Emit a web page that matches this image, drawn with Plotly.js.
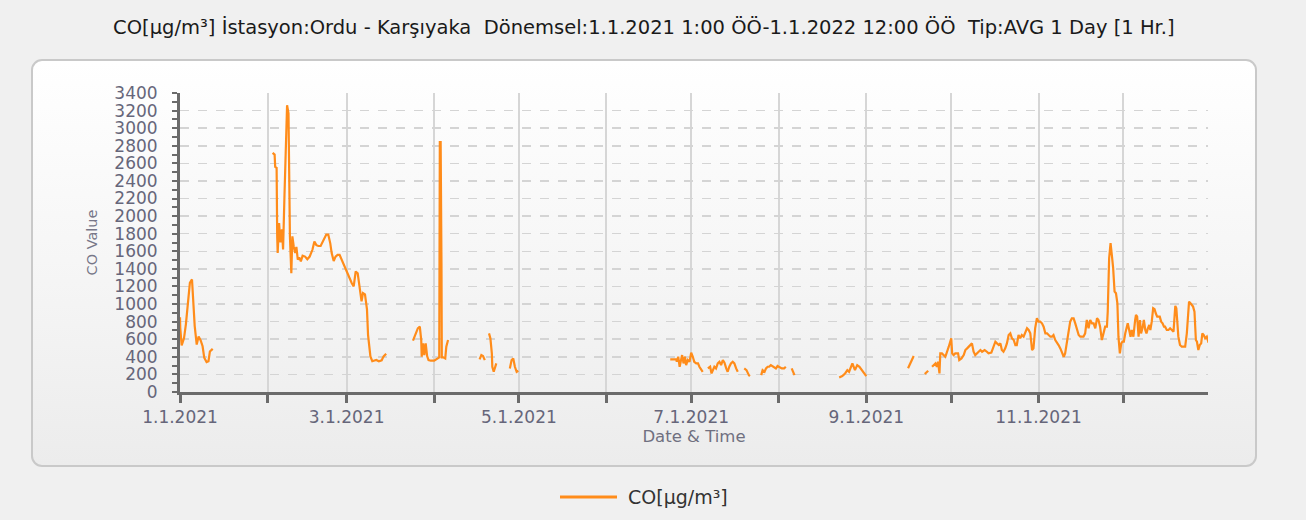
<!DOCTYPE html>
<html>
<head>
<meta charset="utf-8">
<script src="https://cdn.plot.ly/plotly-3.0.1.min.js"></script>
<style>
  html, body { margin: 0; padding: 0; background: #f0f0f0; }
  #wrap { position: relative; width: 1306px; height: 520px; overflow: hidden; }
  #panel { position: absolute; left: 31px; top: 59px; width: 1222px; height: 404px;
           border: 2px solid #c9c9c9; border-radius: 11px;
           background: linear-gradient(to bottom, #ffffff 0%, #f4f4f4 60%, #ececec 100%); }
  #chart { position: absolute; left: 0; top: 0; width: 1306px; height: 520px; }
</style>
</head>
<body>
<div id="wrap">
  <div id="panel"></div>
  <div id="chart"></div>
</div>
<script>
// Each segment: [days since 1.1.2021 00:00, CO value µg/m³]; gaps between segments are missing data.
const janSeg = [[0,850],[0.1,730],[0.6,530],[1.4,610],[2.1,770],[2.8,1030],[3.5,1240],[4.25,1280],[4.7,1020],[5.2,750],[5.9,540],[6.6,630],[7.3,590],[8.0,520],[8.6,390],[9.4,340],[10.1,350],[10.6,460],[11.6,490]];
const febMarSeg = [[32.8,2720],[33.5,2700],[33.7,2560],[34.2,2550],[34.4,1770],[34.6,1580],[35.1,1920],[35.6,1700],[36.1,1850],[36.5,1620],[37.0,2240],[37.5,2830],[37.9,3260],[38.4,3170],[38.6,2830],[38.9,1770],[39.4,1350],[39.8,1770],[40.3,1650],[40.8,1580],[41.2,1650],[41.7,1505],[42.2,1530],[42.8,1485],[43.4,1550],[44.3,1540],[45.1,1510],[45.9,1540],[46.9,1620],[47.6,1710],[48.3,1670],[49.0,1660],[49.8,1660],[50.4,1700],[51.1,1750],[51.8,1790],[52.5,1790],[53.2,1690],[53.7,1580],[54.4,1490],[55.1,1540],[55.8,1560],[56.5,1560],[57.2,1505],[57.9,1450],[58.6,1410],[59.4,1350],[60.1,1300],[60.8,1240],[61.5,1200],[62.2,1370],[62.9,1350],[63.6,1160],[64.3,1030],[64.8,1125],[65.5,1110],[66.2,940],[66.6,650],[67.4,405],[68.1,350],[69.5,365],[70.4,350],[71.4,360],[72.1,405],[73.0,435]];
const marAprSeg = [[82.5,584],[83.45,667],[84.2,724],[84.9,743],[85.4,591],[85.6,401],[86.1,553],[86.5,420],[87.0,553],[87.5,409],[88.0,363],[88.8,356],[90.0,356],[91.8,394],[92.0,2841],[92.3,2841],[92.35,1465],[92.6,1465],[92.7,394],[93.2,394],[93.9,382],[94.3,515],[94.9,591]];
const aprSegA = [[106.1,371],[106.7,420],[107.3,409],[107.9,363]];
const aprSegB = [[109.4,667],[109.9,610],[110.4,440],[110.6,287],[111.1,230],[111.5,287],[112.0,325]];
const aprSegC = [[116.8,268],[117.4,363],[118.0,382],[118.6,287],[119.2,230],[119.8,242]];
const junJulSeg = [[173.6,371],[175.7,371],[175.9,344],[176.4,401],[176.9,287],[177.4,363],[177.8,420],[178.3,325],[178.8,401],[179.2,306],[179.8,363],[180.4,344],[181.0,446],[181.6,401],[182.1,344],[182.8,325],[183.4,325],[183.9,287],[184.5,249],[185.1,230]];
const julSegB = [[186.9,268],[187.7,287],[188.2,211],[188.6,249],[189.2,287],[189.8,268],[190.4,325],[191.0,344],[191.6,306],[192.2,363],[192.8,333],[193.4,268],[193.9,230],[194.5,287],[195.1,325],[195.7,344],[196.3,325],[196.9,268],[197.5,230]];
const julSegC = [[199.8,268],[200.6,249],[201.4,192],[201.8,181]];
const julAugSeg = [[205.8,192],[206.3,249],[207.0,230],[207.5,268],[208.1,287],[208.6,287],[209.2,306],[209.8,295],[210.4,287],[211.0,268],[211.6,295],[212.2,287],[213.1,268],[213.9,268],[214.5,287]];
const augSegB = [[216.6,268],[217.1,230],[217.6,192]];
const augSepSeg = [[233.4,166],[234.5,181],[235.5,211],[236.3,249],[236.9,230],[237.5,287],[238.1,325],[239.0,249],[239.8,306],[240.6,287],[241.4,249],[242.2,219],[243.0,181]];
const sepSegA = [[257.8,270],[258.6,330],[259.4,400],[259.8,410]];
const sepSegB = [[263.7,204],[264.5,230],[264.9,242]];
const octDecSeg = [[266.3,287],[266.9,306],[267.5,325],[268.0,287],[268.4,344],[268.9,211],[269.2,439],[269.8,439],[270.4,420],[271.0,401],[272.2,515],[272.8,572],[273.1,610],[273.4,439],[273.9,420],[274.5,439],[275.5,439],[275.9,363],[276.7,382],[277.5,420],[278.1,477],[278.7,496],[279.3,515],[279.8,534],[280.4,553],[281.0,458],[281.6,420],[282.8,458],[283.4,477],[284.0,458],[284.9,477],[285.7,458],[286.3,439],[287.3,447],[288.1,515],[288.7,572],[289.3,553],[289.9,534],[290.5,553],[291.0,477],[291.6,458],[292.2,496],[292.8,553],[293.4,648],[294.0,667],[294.6,610],[295.2,591],[295.8,534],[296.3,534],[296.9,648],[297.5,610],[298.1,648],[298.7,629],[299.3,667],[299.9,724],[300.5,705],[301.1,667],[301.7,477],[302.2,496],[302.8,724],[303.4,838],[304.0,800],[304.6,800],[305.2,781],[305.8,743],[306.4,667],[307.0,667],[307.6,648],[308.2,629],[308.7,629],[309.3,648],[309.9,591],[310.5,553],[311.1,534],[311.7,496],[312.3,439],[312.9,401],[313.4,439],[314.0,553],[314.6,667],[315.2,800],[315.8,838],[316.4,838],[317.0,781],[317.6,705],[318.2,648],[318.8,629],[319.3,629],[319.9,629],[320.5,667],[321.1,819],[321.7,724],[322.3,819],[322.9,781],[323.5,781],[324.1,724],[324.7,838],[325.2,819],[325.8,743],[326.4,591],[327.0,667],[327.6,743],[328.2,743],[328.5,914],[329.0,1522],[329.5,1693],[330.0,1541],[330.4,1408],[330.9,1142],[331.4,1123],[331.9,1009],[332.3,629],[332.8,439],[333.3,553],[333.7,572],[334.2,572],[334.7,667],[335.1,705],[335.6,781],[336.1,705],[336.6,629],[337.0,705],[337.6,629],[338.2,819],[338.5,876],[338.9,857],[339.4,629],[339.9,819],[340.3,667],[340.8,724],[341.3,819],[341.8,705],[342.2,667],[342.7,724],[343.2,762],[343.6,705],[344.1,800],[344.6,952],[345.1,941],[345.5,895],[346.0,857],[346.5,857],[346.9,857],[347.4,800],[347.9,781],[348.4,743],[348.8,743],[349.4,705],[350.0,705],[350.6,724],[351.2,705],[351.8,686],[352.4,979],[352.8,952],[353.1,819],[353.5,629],[354.1,534],[354.7,515],[355.3,515],[355.9,515],[356.5,667],[356.8,819],[357.3,1028],[357.8,1009],[358.3,990],[358.7,971],[359.2,914],[359.7,591],[360.1,572],[360.6,477],[361.1,534],[361.6,553],[362.0,667],[362.5,648],[363.0,610],[363.6,629],[364.2,560]];

const segments = [janSeg, febMarSeg, marAprSeg, aprSegA, aprSegB, aprSegC, junJulSeg, julSegB, julSegC, julAugSeg, augSegB, augSepSeg, sepSegA, sepSegB, octDecSeg];

const seriesName = 'CO[µg/m³]';
const chartTitle = 'CO[µg/m³] İstasyon:Ordu - Karşıyaka  Dönemsel:1.1.2021 1:00 ÖÖ-1.1.2022 12:00 ÖÖ  Tip:AVG 1 Day [1 Hr.]';
const xTitle = 'Date & Time';
const yTitle = 'CO Value';
const lineColor = '#ff8c1a';

function toDate(d) {
  const t = Date.UTC(2021, 0, 1) + Math.round(d * 24) * 3600000;
  return new Date(t).toISOString().slice(0, 16).replace('T', ' ');
}

const xs = [], ys = [];
segments.forEach((seg, i) => {
  if (i > 0) { // break the line between segments
    const prev = segments[i - 1];
    xs.push(toDate((prev[prev.length - 1][0] + seg[0][0]) / 2));
    ys.push(null);
  }
  seg.forEach(p => { xs.push(toDate(p[0])); ys.push(p[1]); });
});

const axisColor = '#6b6b6b';
const tickFontColor = '#66667a';

const trace = {
  type: 'scatter', mode: 'lines', name: seriesName,
  x: xs, y: ys, connectgaps: false, showlegend: false,
  line: { color: lineColor, width: 2.2 }
};

// plot area spans x 180..1208 px, y 93..392 px
const px = v => (v - 180) / 1028;
const py = v => (392 - v) / 299;

const layout = {
  width: 1306, height: 520,
  margin: { l: 180, r: 98, t: 93, b: 128 },
  paper_bgcolor: 'rgba(0,0,0,0)',
  plot_bgcolor: 'rgba(0,0,0,0)',
  font: { family: 'DejaVu Sans, Verdana, sans-serif', color: '#333' },
  title: {
    text: chartTitle, xref: 'container', yref: 'container',
    x: 0.493, xanchor: 'center', y: 0.948, yanchor: 'middle',
    font: { family: 'DejaVu Sans, sans-serif', size: 19.5, color: '#1a1a1a' }
  },
  xaxis: {
    type: 'date', range: ['2021-01-01', '2021-12-31'],
    tick0: '2021-01-01', dtick: 'M2', tickformat: '%-m.%-d.%Y',
    ticks: 'outside', ticklen: 8, tickwidth: 3, tickcolor: axisColor,
    showline: true, linecolor: axisColor, linewidth: 3,
    showgrid: true, gridcolor: '#d6d6d6', gridwidth: 2,
    zeroline: false,
    minor: { dtick: 'M1', tick0: '2021-01-01', ticks: 'outside', ticklen: 8, tickwidth: 3, tickcolor: axisColor,
             showgrid: true, gridcolor: '#d6d6d6', gridwidth: 2 },
    tickfont: { size: 17, color: tickFontColor },
    title: { text: xTitle, standoff: 0, font: { size: 16.5, color: '#707080' } }
  },
  yaxis: {
    range: [0, 3400], dtick: 200, tick0: 0,
    ticks: 'outside', ticklen: 5, tickwidth: 2, tickcolor: axisColor,
    ticklabelstandoff: 11,
    showline: true, linecolor: axisColor, linewidth: 3,
    showgrid: true, gridcolor: '#d4d4d4', gridwidth: 1.5, griddash: 'dash',
    zeroline: false,
    minor: { dtick: 100, ticks: 'outside', ticklen: 5, tickwidth: 2, tickcolor: axisColor, showgrid: false },
    tickfont: { size: 17, color: tickFontColor },
    title: { text: yTitle, standoff: 14, font: { size: 14.5, color: '#777788' } }
  },
  // legend drawn as a sample line plus its label, below the panel
  shapes: [{
    type: 'line', xref: 'paper', yref: 'paper',
    x0: px(560), x1: px(617), y0: py(497), y1: py(497),
    line: { color: lineColor, width: 3 }
  }],
  annotations: [{
    text: seriesName, xref: 'paper', yref: 'paper',
    x: px(626), y: py(497), xanchor: 'left', yanchor: 'middle',
    showarrow: false, font: { size: 19, color: '#333333' }
  }]
};

Plotly.newPlot('chart', [trace], layout, { displayModeBar: false, staticPlot: true });
</script>
</body>
</html>
